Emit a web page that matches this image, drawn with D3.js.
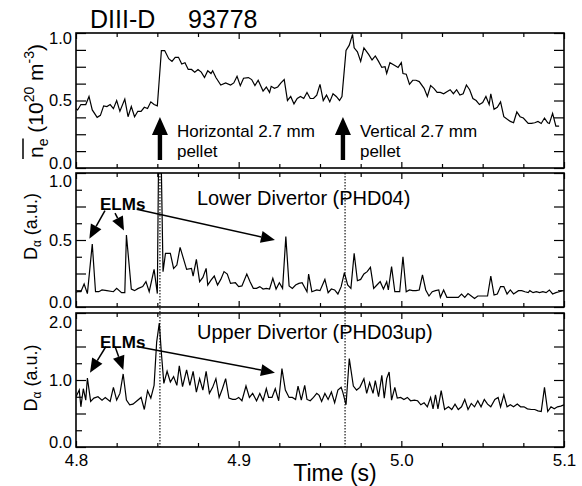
<!DOCTYPE html>
<html>
<head>
<meta charset="utf-8">
<script src="https://cdn.jsdelivr.net/npm/d3@7"></script>
<style>
  body { margin: 0; background: #fff; }
  svg { display: block; font-family: "Liberation Sans", Arial, Helvetica, sans-serif; }
</style>
</head>
<body>
<svg id="chart" width="582" height="486"></svg>
<script>
// line-averaged density (10^20 m^-3), [time s, value]
const density = [
  [4.800,0.44],[4.801,0.43],[4.803,0.47],[4.806,0.47],[4.808,0.53],[4.810,0.43],[4.813,0.375],[4.815,0.39],
  [4.817,0.46],[4.819,0.455],[4.821,0.47],[4.823,0.44],[4.825,0.50],[4.827,0.42],[4.830,0.51],[4.832,0.38],
  [4.834,0.455],[4.836,0.38],[4.838,0.42],[4.840,0.42],[4.842,0.45],[4.844,0.44],[4.846,0.49],[4.848,0.47],
  [4.850,0.46],[4.8525,0.87],[4.8545,0.87],[4.857,0.81],[4.859,0.79],[4.861,0.82],[4.863,0.82],[4.865,0.77],
  [4.867,0.78],[4.869,0.73],[4.871,0.73],[4.873,0.71],[4.875,0.73],[4.877,0.71],[4.879,0.67],[4.881,0.72],
  [4.883,0.70],[4.884,0.72],[4.886,0.67],[4.889,0.615],[4.892,0.63],[4.895,0.615],[4.897,0.63],[4.899,0.68],
  [4.901,0.61],[4.903,0.665],[4.906,0.67],[4.908,0.655],[4.910,0.61],[4.912,0.65],[4.915,0.57],[4.917,0.60],
  [4.919,0.56],[4.920,0.605],[4.922,0.59],[4.924,0.60],[4.926,0.63],[4.928,0.655],[4.930,0.50],[4.932,0.53],
  [4.934,0.475],[4.936,0.515],[4.938,0.53],[4.940,0.515],[4.942,0.56],[4.944,0.515],[4.946,0.515],[4.948,0.54],
  [4.950,0.62],[4.952,0.50],[4.954,0.54],[4.956,0.49],[4.958,0.55],[4.960,0.53],[4.962,0.50],[4.9635,0.53],
  [4.966,0.87],[4.968,0.91],[4.970,0.99],[4.971,0.89],[4.973,0.86],[4.975,0.79],[4.977,0.89],[4.980,0.84],
  [4.982,0.80],[4.984,0.83],[4.986,0.79],[4.988,0.745],[4.990,0.75],[4.991,0.70],[4.993,0.78],[4.996,0.76],
  [4.998,0.745],[5.000,0.78],[5.001,0.70],[5.003,0.695],[5.005,0.62],[5.007,0.65],[5.009,0.65],[5.011,0.64],
  [5.014,0.59],[5.016,0.53],[5.018,0.61],[5.020,0.59],[5.022,0.56],[5.024,0.56],[5.026,0.55],[5.028,0.565],
  [5.030,0.58],[5.032,0.55],[5.034,0.58],[5.036,0.54],[5.038,0.55],[5.040,0.615],[5.042,0.58],[5.044,0.515],
  [5.046,0.50],[5.048,0.47],[5.050,0.485],[5.052,0.53],[5.054,0.47],[5.055,0.55],[5.057,0.435],[5.059,0.45],
  [5.061,0.49],[5.063,0.38],[5.067,0.345],[5.069,0.335],[5.071,0.415],[5.073,0.38],[5.075,0.37],[5.078,0.33],
  [5.080,0.33],[5.082,0.335],[5.084,0.345],[5.086,0.33],[5.088,0.37],[5.090,0.335],[5.091,0.33],[5.093,0.405],
  [5.095,0.31],[5.097,0.31]
];

// D-alpha, lower divertor (PHD04)
const lowerDiv = [
  [4.800,0.11],[4.801,0.114],[4.803,0.114],[4.805,0.172],[4.807,0.10],[4.810,0.47],[4.812,0.114],[4.814,0.114],
  [4.816,0.127],[4.819,0.122],[4.823,0.114],[4.825,0.139],[4.828,0.107],[4.830,0.107],[4.831,0.537],[4.834,0.134],
  [4.836,0.122],[4.838,0.137],[4.841,0.152],[4.843,0.189],[4.845,0.114],[4.848,0.281],[4.850,0.10],[4.8509,1.3],
  [4.8521,1.3],[4.8535,0.264],[4.855,0.40],[4.858,0.40],[4.860,0.288],[4.862,0.313],[4.864,0.445],[4.866,0.363],
  [4.868,0.281],[4.871,0.288],[4.872,0.231],[4.874,0.356],[4.876,0.189],[4.878,0.221],[4.880,0.288],[4.881,0.164],
  [4.883,0.201],[4.885,0.231],[4.887,0.164],[4.889,0.206],[4.891,0.264],[4.893,0.246],[4.895,0.176],[4.898,0.181],
  [4.900,0.152],[4.902,0.157],[4.905,0.246],[4.907,0.189],[4.909,0.139],[4.911,0.139],[4.913,0.152],[4.915,0.134],
  [4.917,0.139],[4.919,0.134],[4.921,0.214],[4.923,0.134],[4.925,0.181],[4.927,0.139],[4.929,0.525],[4.931,0.157],
  [4.933,0.139],[4.935,0.164],[4.937,0.176],[4.939,0.181],[4.942,0.114],[4.943,0.246],[4.945,0.114],[4.948,0.127],
  [4.950,0.122],[4.953,0.206],[4.955,0.107],[4.957,0.134],[4.959,0.127],[4.961,0.097],[4.963,0.152],[4.965,0.256],
  [4.967,0.164],[4.969,0.139],[4.971,0.40],[4.973,0.196],[4.975,0.206],[4.977,0.246],[4.979,0.264],[4.981,0.296],
  [4.983,0.139],[4.985,0.164],[4.987,0.189],[4.989,0.134],[4.991,0.189],[4.992,0.127],[4.994,0.301],[4.996,0.114],
  [4.999,0.114],[5.001,0.375],[5.003,0.114],[5.005,0.127],[5.007,0.122],[5.009,0.122],[5.011,0.127],[5.013,0.239],
  [5.015,0.127],[5.017,0.082],[5.019,0.114],[5.021,0.122],[5.023,0.127],[5.024,0.072],[5.026,0.127],[5.028,0.072],
  [5.030,0.072],[5.033,0.072],[5.035,0.072],[5.037,0.097],[5.039,0.072],[5.041,0.10],[5.043,0.082],[5.045,0.064],
  [5.047,0.082],[5.049,0.082],[5.051,0.082],[5.053,0.082],[5.055,0.231],[5.057,0.089],[5.059,0.097],[5.061,0.152],
  [5.063,0.152],[5.065,0.097],[5.067,0.127],[5.069,0.097],[5.072,0.122],[5.074,0.122],[5.076,0.114],[5.078,0.107],
  [5.079,0.122],[5.081,0.107],[5.083,0.114],[5.085,0.107],[5.087,0.114],[5.089,0.107],[5.091,0.127],[5.093,0.097],
  [5.095,0.107],[5.097,0.114],[5.099,0.122]
];

// D-alpha, upper divertor (PHD03up)
const upperDiv = [
  [4.800,0.75],[4.802,0.85],[4.803,0.60],[4.8045,0.87],[4.806,0.70],[4.807,1.03],[4.809,0.68],[4.811,0.73],
  [4.8135,0.75],[4.816,0.70],[4.818,0.74],[4.821,0.68],[4.823,0.89],[4.825,0.70],[4.827,0.80],[4.829,1.09],
  [4.831,0.70],[4.833,0.63],[4.835,0.64],[4.837,0.68],[4.840,0.74],[4.842,0.56],[4.844,0.84],[4.846,0.73],
  [4.848,0.92],[4.8496,1.57],[4.8512,1.85],[4.8525,1.40],[4.854,0.95],[4.856,1.13],[4.858,0.97],[4.860,1.05],
  [4.862,0.92],[4.8635,1.21],[4.8655,0.90],[4.868,1.15],[4.870,0.92],[4.872,1.13],[4.874,0.82],[4.876,1.02],
  [4.878,0.85],[4.880,1.13],[4.882,0.80],[4.884,0.89],[4.886,1.02],[4.888,0.74],[4.890,0.87],[4.892,1.02],
  [4.894,0.73],[4.8963,0.71],[4.898,0.71],[4.900,0.74],[4.902,0.69],[4.9045,0.91],[4.9066,0.74],[4.9086,0.80],
  [4.911,0.69],[4.913,0.80],[4.915,0.69],[4.917,0.87],[4.9184,0.74],[4.9205,0.74],[4.9225,0.87],[4.9246,0.69],
  [4.9266,1.17],[4.9287,0.85],[4.931,0.74],[4.933,0.74],[4.935,0.71],[4.9365,0.91],[4.9385,0.70],[4.9406,0.92],
  [4.942,0.71],[4.944,0.69],[4.946,0.74],[4.948,0.80],[4.9495,0.77],[4.951,0.68],[4.953,0.80],[4.955,0.71],
  [4.957,0.82],[4.959,0.66],[4.961,0.85],[4.963,0.89],[4.964,0.82],[4.966,0.63],[4.968,1.32],[4.9705,0.91],
  [4.9725,0.85],[4.9745,0.89],[4.977,1.02],[4.9787,0.80],[4.9805,0.96],[4.9826,0.80],[4.984,0.99],[4.986,0.75],
  [4.988,1.07],[4.9895,0.73],[4.991,1.02],[4.9925,1.12],[4.994,0.70],[4.996,0.89],[4.9975,0.73],[4.9996,0.74],
  [5.0016,0.71],[5.0037,0.74],[5.0057,0.69],[5.008,0.70],[5.010,0.69],[5.012,0.63],[5.014,0.66],[5.016,0.60],
  [5.018,0.74],[5.0195,0.57],[5.021,0.78],[5.0225,0.57],[5.0245,0.84],[5.0266,0.56],[5.029,0.60],[5.031,0.56],
  [5.033,0.64],[5.035,0.56],[5.037,0.60],[5.039,0.71],[5.041,0.56],[5.043,0.65],[5.045,0.60],[5.047,0.69],
  [5.049,0.60],[5.051,0.71],[5.053,0.64],[5.055,0.60],[5.0575,0.71],[5.0595,0.74],[5.061,0.60],[5.063,0.78],
  [5.065,0.60],[5.067,0.63],[5.069,0.60],[5.0713,0.64],[5.0733,0.60],[5.0754,0.60],[5.0775,0.57],[5.080,0.56],
  [5.082,0.56],[5.084,0.54],[5.086,0.53],[5.088,0.89],[5.090,0.53],[5.092,0.60],[5.094,0.57],[5.096,0.60],
  [5.098,0.61],[5.100,0.63]
];

const timeTicks = [4.8, 4.9, 5.0, 5.1];
const pelletTimes = [4.8516, 4.9654];          // dotted markers
const pelletArrows = [
  { t: 4.8516, text: ["Horizontal 2.7 mm", "pellet"] },
  { t: 4.9641, text: ["Vertical 2.7 mm", "pellet"] }
];
// ELM arrows, [t, value] from / to
const elmLower = [
  [[4.8178, 0.72], [4.8082, 0.51]],
  [[4.8240, 0.70], [4.8295, 0.57]],
  [[4.8373, 0.73], [4.9223, 0.50]]
];
const elmUpper = [
  [[4.8184, 1.50], [4.8086, 1.11]],
  [[4.8240, 1.50], [4.8291, 1.15]],
  [[4.8373, 1.50], [4.9223, 1.11]]
];

const svg = d3.select('#chart');
const x = d3.scaleLinear().domain([4.8, 5.1]).range([76, 564]);

const panels = [
  { key: 'ne', data: density, domain: [0, 1], top: 33, bottom: 168, step: 0.125, longEvery: 0.125, labels: [0, 0.5, 1], shiftTop: 5 },
  { key: 'lower', data: lowerDiv, domain: [0, 1], top: 173, bottom: 307, step: 0.125, longEvery: 0.25, labels: [0, 0.5, 1], shiftTop: 8 },
  { key: 'upper', data: upperDiv, domain: [0, 2], top: 313, bottom: 447, step: 0.25, longEvery: 0.5, labels: [0, 1, 2], shiftTop: 9 }
];

const fmt = d3.format('.1f');
const near = (a, b) => Math.abs(a - b) < 1e-6;
const isMult = (v, m) => near(v / m, Math.round(v / m));

panels.forEach((p, i) => {
  p.y = d3.scaleLinear().domain(p.domain).range([p.bottom, p.top]);
  const g = svg.append('g').attr('class', 'panel-' + p.key);

  g.append('clipPath').attr('id', 'clip-' + p.key)
    .append('rect')
    .attr('x', x.range()[0]).attr('y', p.top)
    .attr('width', x.range()[1] - x.range()[0]).attr('height', p.bottom - p.top);

  const yTicks = d3.range(p.domain[0], p.domain[1] + 1e-9, p.step);
  const tickLen = (v) => isMult(v, p.longEvery) ? 10 : 6;

  // left axis
  const left = g.append('g')
    .attr('transform', `translate(${x.range()[0]},0)`)
    .call(d3.axisLeft(p.y).tickValues(yTicks).tickSizeOuter(0).tickSizeInner(0).tickPadding(4)
      .tickFormat((d) => p.labels.some((l) => near(l, d)) ? fmt(d) : ''));
  left.select('.domain').remove();
  left.selectAll('.tick line').attr('x2', (d) => tickLen(d)).attr('stroke-width', 1.2);
  left.selectAll('.tick text')
    .attr('font-size', 16.5).attr('font-family', null).attr('fill', '#000')
    .attr('y', (d) => near(d, p.domain[1]) ? p.shiftTop : near(d, p.domain[0]) ? -5 : 0);

  // right axis
  const right = g.append('g')
    .attr('transform', `translate(${x.range()[1]},0)`)
    .call(d3.axisRight(p.y).tickValues(yTicks).tickSizeOuter(0).tickSizeInner(0).tickFormat(''));
  right.select('.domain').remove();
  right.selectAll('.tick line').attr('x2', (d) => -tickLen(d)).attr('stroke-width', 1.2);

  // top & bottom time ticks
  const tTicks = d3.range(4.8, 5.1 + 1e-9, 0.025);
  const tLen = (v) => isMult(v - 4.8, 0.1) ? 6 : 4;
  const topAx = g.append('g')
    .attr('transform', `translate(0,${p.top})`)
    .call(d3.axisTop(x).tickValues(tTicks).tickSizeOuter(0).tickSizeInner(0).tickFormat(''));
  topAx.select('.domain').remove();
  topAx.selectAll('.tick line').attr('y2', (d) => tLen(d)).attr('stroke-width', 1.2);

  const botAx = g.append('g')
    .attr('transform', `translate(0,${p.bottom})`)
    .call(d3.axisBottom(x).tickValues(tTicks).tickSizeOuter(0).tickSizeInner(0)
      .tickFormat((d) => i === 2 && timeTicks.some((t) => near(t, d)) ? fmt(d) : ''));
  botAx.select('.domain').remove();
  botAx.selectAll('.tick line').attr('y2', (d) => -tLen(d)).attr('stroke-width', 1.2);
  botAx.selectAll('.tick text')
    .attr('font-size', 17).attr('font-family', null).attr('fill', '#000').attr('y', 7);

  // trace
  const line = d3.line().x((d) => x(d[0])).y((d) => p.y(d[1]));
  g.append('path')
    .datum(p.data)
    .attr('clip-path', `url(#clip-${p.key})`)
    .attr('d', line)
    .attr('fill', 'none')
    .attr('stroke', '#000')
    .attr('stroke-width', 1.2)
    .attr('stroke-linejoin', 'miter');

  // frame
  g.append('rect')
    .attr('x', x.range()[0]).attr('y', p.top)
    .attr('width', x.range()[1] - x.range()[0]).attr('height', p.bottom - p.top)
    .attr('fill', 'none').attr('stroke', '#000').attr('stroke-width', 1.6);
});

const [pNe, pLow, pUp] = panels;

// dotted pellet markers through the D-alpha panels
svg.append('g').selectAll('line')
  .data(pelletTimes)
  .join('line')
  .attr('x1', (d) => x(d)).attr('x2', (d) => x(d))
  .attr('y1', pLow.top).attr('y2', pUp.bottom)
  .attr('stroke', '#000').attr('stroke-width', 1.1)
  .attr('stroke-dasharray', '1.5,1.5');

// title
const title = svg.append('g').attr('font-size', 25).attr('fill', '#000');
title.append('text').attr('x', 90).attr('y', 28).text('DIII-D');
title.append('text').attr('x', 188).attr('y', 28).text('93778');

// pellet arrows
const pa = svg.append('g');
pelletArrows.forEach((a) => {
  const cx = x(a.t);
  const tip = pNe.y(0.378), base = pNe.y(0.06), headB = tip + 18;
  pa.append('path')
    .attr('d', `M${cx},${tip} L${cx + 8},${headB} L${cx + 2.2},${headB} L${cx + 2.2},${base} L${cx - 2.2},${base} L${cx - 2.2},${headB} L${cx - 8},${headB} Z`)
    .attr('fill', '#000');
  a.text.forEach((s, k) => {
    pa.append('text')
      .attr('x', cx + 17).attr('y', 137 + k * 20)
      .attr('font-size', 17).text(s);
  });
});

// divertor labels
svg.append('text').attr('x', 197).attr('y', 205).attr('font-size', 20).text('Lower Divertor (PHD04)');
svg.append('text').attr('x', 197).attr('y', 339).attr('font-size', 20).text('Upper Divertor (PHD03up)');

// ELM annotations
function elmArrows(panel, arrows, labelY) {
  const g = svg.append('g');
  g.append('text').attr('x', 100).attr('y', labelY)
    .attr('font-size', 17).attr('font-weight', 'bold').text('ELMs');
  arrows.forEach(([from, to]) => {
    const x0 = x(from[0]), y0 = panel.y(from[1]);
    const x1 = x(to[0]), y1 = panel.y(to[1]);
    const ang = Math.atan2(y1 - y0, x1 - x0);
    const L = 14, W = 6;
    const bx = x1 - L * Math.cos(ang), by = y1 - L * Math.sin(ang);
    g.append('line')
      .attr('x1', x0).attr('y1', y0).attr('x2', bx).attr('y2', by)
      .attr('stroke', '#000').attr('stroke-width', 1.5);
    g.append('path')
      .attr('d', `M${x1},${y1} L${bx - W * Math.sin(ang)},${by + W * Math.cos(ang)} L${bx + W * Math.sin(ang)},${by - W * Math.cos(ang)} Z`)
      .attr('fill', '#000');
  });
}
elmArrows(pLow, elmLower, 210);
elmArrows(pUp, elmUpper, 348);

// y axis titles
const neLab = svg.append('g').attr('transform', 'translate(43,101) rotate(-90)');
const neText = neLab.append('text').attr('font-size', 21).attr('fill', '#000');
const tN = neText.append('tspan').text('n');
const tE = neText.append('tspan').attr('font-size', 14).attr('dy', 5).text('e');
neText.append('tspan').attr('dy', -5).text(' (10');
neText.append('tspan').attr('font-size', 14).attr('dy', -9).text('20');
neText.append('tspan').attr('dy', 9).text(' m');
neText.append('tspan').attr('font-size', 14).attr('dy', -9).text('-3');
neText.append('tspan').attr('dy', 9).text(')');
const neLen = neText.node().getComputedTextLength();
neText.attr('x', -neLen / 2);
const barLen = tN.node().getComputedTextLength() + tE.node().getComputedTextLength();
neLab.append('line')
  .attr('x1', -neLen / 2 - 1).attr('x2', -neLen / 2 + barLen)
  .attr('y1', -20).attr('y2', -20)
  .attr('stroke', '#000').attr('stroke-width', 1.5);

function daLabel(cy) {
  const t = svg.append('text')
    .attr('transform', `translate(37,${cy}) rotate(-90)`)
    .attr('text-anchor', 'middle')
    .attr('font-size', 18).attr('fill', '#000');
  t.append('tspan').text('D');
  t.append('tspan').attr('font-size', 12).attr('dy', 4).text('α');
  t.append('tspan').attr('dy', -4).text(' (a.u.)');
}
daLabel(pLow.y(0.6));
daLabel(pUp.y(1.03));

// time axis title
svg.append('text').attr('x', 335).attr('y', 481).attr('text-anchor', 'middle')
  .attr('font-size', 23).text('Time (s)');
</script>
</body>
</html>
